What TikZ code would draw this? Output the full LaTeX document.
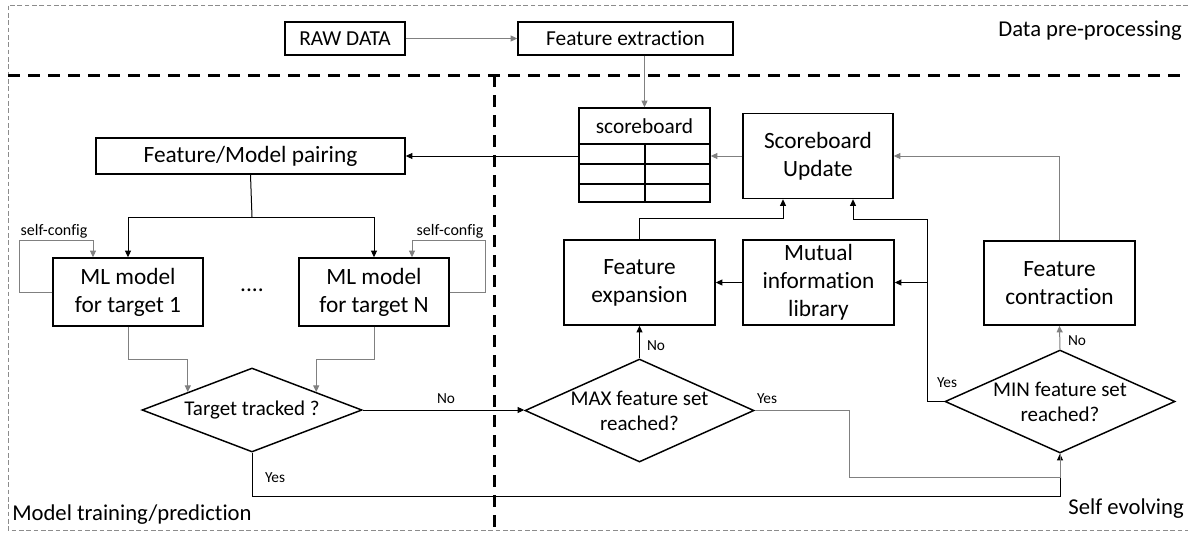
\documentclass[tikz,border=0pt]{standalone}
\usepackage{fontspec}
\setmainfont{Carlito}[Ligatures=NoCommon]
\usetikzlibrary{shapes.geometric,arrows.meta,calc}
\begin{document}
\begin{tikzpicture}[x=0.75pt,y=-0.75pt,
  tip/.tip={Triangle[length=5pt,width=4.5pt]},
  box/.style={draw,line width=1.1pt,inner sep=0pt,align=center,font=\fontsize{17.5}{21}\selectfont},
  sbox/.style={box,font=\fontsize{16}{19}\selectfont},
  diam/.style={diamond,draw,line width=1.1pt,inner sep=0pt},
  dtext/.style={align=center,inner sep=0pt,font=\fontsize{15.75}{18.75}\selectfont},
  lab/.style={inner sep=0pt,font=\fontsize{11.5}{13}\selectfont},
  region/.style={inner sep=0pt,font=\fontsize{17}{20}\selectfont},
  conn/.style={draw=black,line width=0.75pt},
  gconn/.style={draw=black!50,line width=0.75pt},
  tbl/.style={draw,line width=1.1pt},
  thick dash/.style={line width=2.25pt,dash pattern=on 9pt off 6pt},
  thin dash/.style={draw=black!45,line width=0.75pt,dash pattern=on 3.5pt off 2pt}
]
\useasboundingbox (0,0) rectangle (1188,533);

% region borders
\draw[thin dash] (1188,5) -- (8,5) -- (8,530) -- (1188,530);
\draw[thick dash] (8,75) -- (1188,75);
\draw[thick dash] (494,75) -- (494,530);

\node[region,anchor=east] (lpre) at (1182,31) {Data pre-processing};
\node[region,anchor=base west] (ltrain) at (12,520) {Model training/prediction};
\node[region,anchor=base east] (lself) at (1184,514) {Self evolving};

% nodes
\node[sbox,minimum width=90pt,minimum height=24.75pt] (raw) at (345,38.5) {RAW DATA};
\node[sbox,minimum width=161.25pt,minimum height=24.75pt] (feat) at (625.5,38.5) {Feature extraction};

\node[draw,line width=1.1pt,minimum width=98.25pt,minimum height=70.5pt,inner sep=0pt] (sb) at (644.5,155) {};
\node[inner sep=0pt,font=\fontsize{16}{19}\selectfont] (sbt) at (644.5,126) {scoreboard};
\draw[tbl] (sb.west |- 0,144) -- (sb.east |- 0,144);
\draw[tbl] (sb.west |- 0,164) -- (sb.east |- 0,164);
\draw[tbl] (sb.west |- 0,184) -- (sb.east |- 0,184);
\draw[tbl] (645,144) -- (645,202);

\node[box,minimum width=112.5pt,minimum height=63.75pt] (upd) at (818,156) {Scoreboard\\Update};
\node[box,minimum width=231.75pt,minimum height=27pt] (pair) at (250.5,156) {Feature/Model pairing};

\node[box,minimum width=112.5pt,minimum height=51pt] (ml1) at (128,292) {ML model\\for target 1};
\node[box,minimum width=112.5pt,minimum height=51pt] (mln) at (374,292) {ML model\\for target N};
\node[inner sep=0pt,font=\fontsize{17.5}{21}\selectfont] (dots) at (252,290) {....};

\node[box,minimum width=113.25pt,minimum height=63.75pt] (exp) at (639.5,282.5) {Feature\\expansion};
\node[box,minimum width=113.25pt,minimum height=63.75pt] (mut) at (818.5,282.5) {Mutual\\information\\library};
\node[box,minimum width=113.25pt,minimum height=63pt] (con) at (1059.5,283) {Feature\\contraction};

\node[diam,minimum width=165pt,minimum height=63pt] (tt) at (252,410) {};
\node[dtext] (ttt) at (tt.center) {Target tracked ?};
\node[diam,minimum width=171.75pt,minimum height=77.25pt] (max) at (639.5,410.5) {};
\node[dtext] (maxt) at (max.center) {MAX feature set\\reached?};
\node[diam,minimum width=172.5pt,minimum height=77.25pt] (min) at (1060,401.5) {};
\node[dtext] (mint) at (min.center) {MIN feature set\\reached?};

% labels
\node[lab,font=\fontsize{12}{14}\selectfont] (sc1l) at (54,231) {self-config};
\node[lab,font=\fontsize{12}{14}\selectfont] (sc2l) at (450,231) {self-config};
\node[lab] (no1) at (446,399) {No};
\node[lab] (yes1) at (275,478) {Yes};
\node[lab] (no2) at (656,346) {No};
\node[lab] (yes2) at (767,399) {Yes};
\node[lab] (no3) at (1077,341) {No};
\node[lab] (yes3) at (947,383) {Yes};

% coordinates
\coordinate (split) at (252,217);
\coordinate (sc1) at (19,240);
\coordinate (sc2) at (485,240);
\coordinate (yj) at (927,401.5);

% connectors
\draw[gconn,-tip] (raw) -- (feat);
\draw[gconn,-tip] (sb.north |- feat.south) -- (sb.north);
\draw[gconn,-tip] (upd.west) -- (upd.west -| sb.east);
\draw[conn,-tip] (upd.west -| sb.west) -- (pair.east);

\draw[conn] (pair.south) -- (split);
\draw[conn,-tip] (split) -| (ml1.north);
\draw[conn,-tip] (split) -| (mln.north);

\draw[gconn,-tip] (ml1.west) -| (sc1) -| ([xshift=-26.25pt]ml1.north);
\draw[gconn,-tip] (mln.east) -| (sc2) -| ([xshift=28.5pt]mln.north);

\draw[gconn,-tip] (ml1.south) -- ++(0,33) -| ($(tt.north)!0.58!(tt.west)$);
\draw[gconn,-tip] (mln.south) -- ++(0,33) -| ($(tt.north)!0.58!(tt.east)$);

\draw[conn,-tip] (tt.east) -- (tt.east -| max.west);
\draw[conn,-tip] (tt.south) -- ++(0,44) -| (min.south);

\draw[conn,-tip] (max.north) -- (exp.south);
\draw[gconn] (max.east) -- ++(95,0) -- ++(0,66.5) -| (min.south);

\draw[conn,-tip] (exp.north) -- ++(0,-21) -| ([xshift=-26.25pt]upd.south);
\draw[conn,-tip] (mut.west) -- (exp.east);

\draw[conn] (min.west) -- (yj);
\draw[conn,-tip] (yj) -- (yj |- 0,219) -| ([xshift=26.25pt]upd.south);
\draw[conn,-tip] (mut.east -| yj) -- (mut.east);

\draw[gconn,-tip] (min.north) -- (con.south);
\draw[gconn,-tip] (con.north) |- (upd.east);
\end{tikzpicture}
\end{document}
